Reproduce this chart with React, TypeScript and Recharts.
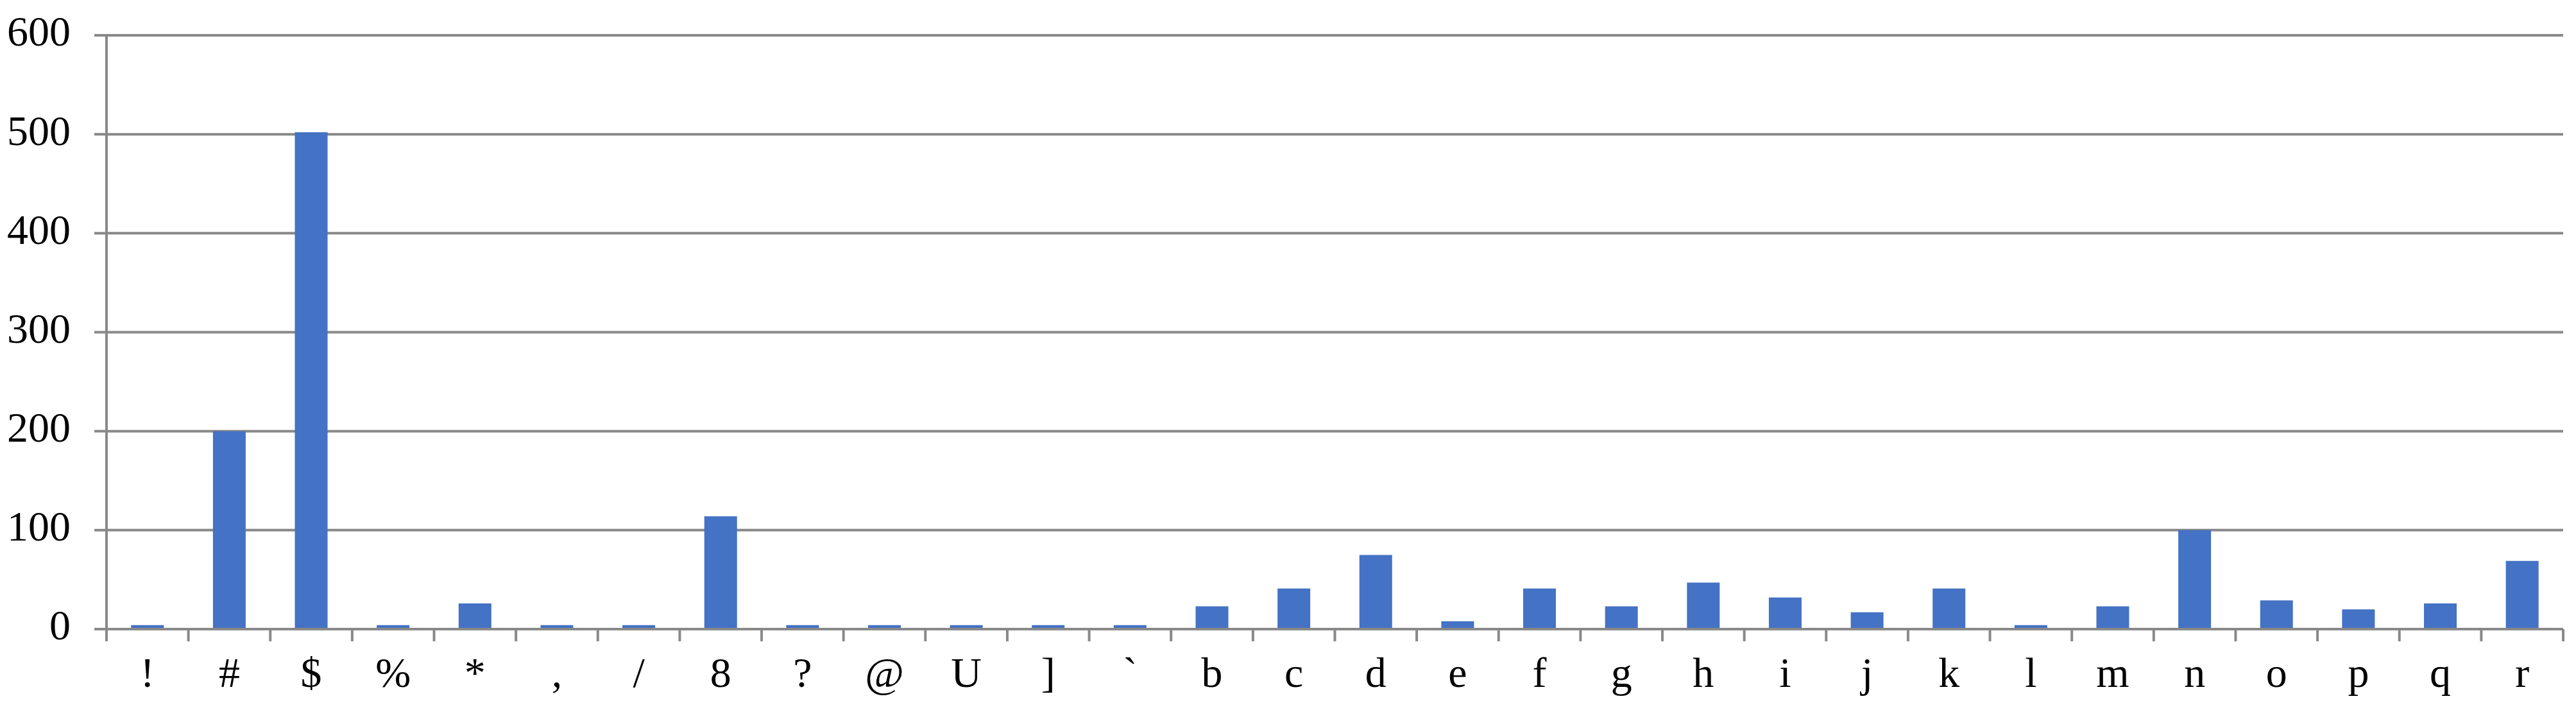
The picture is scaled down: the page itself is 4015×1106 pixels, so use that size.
import { BarChart, Bar, XAxis, YAxis, CartesianGrid } from "recharts";

const categories = [
  "!", "#", "$", "%", "*", ",", "/", "8", "?", "@",
  "U", "]", "`", "b", "c", "d", "e", "f", "g", "h",
  "i", "j", "k", "l", "m", "n", "o", "p", "q", "r",
];

const counts = [
  4, 200, 502, 4, 26, 4, 4, 114, 4, 4,
  4, 4, 4, 23, 41, 75, 8, 41, 23, 47,
  32, 17, 41, 4, 23, 100, 29, 20, 26, 69,
];

const yTicks = [0, 100, 200, 300, 400, 500, 600];

const data = categories.map((name, i) => ({ name, value: counts[i] }));

const GRID = "#898989";
const FONT = "'Liberation Serif', 'Times New Roman', serif";

// label at the band centre, Excel-style tick marks on the band edges
const CategoryTick = (props: any) => {
  const { x, y, payload, index } = props;
  const half = payload?.offset ?? 0;
  const axisY = y - 43;
  return (
    <g>
      <line x1={x - half} x2={x - half} y1={axisY} y2={axisY + 19} stroke={GRID} strokeWidth={4} />
      {index === categories.length - 1 && (
        <line x1={x + half} x2={x + half} y1={axisY} y2={axisY + 19} stroke={GRID} strokeWidth={4} />
      )}
      <text x={x} y={y} dy="0.71em" textAnchor="middle" fill="#000" fontSize={66} fontFamily={FONT}>
        {payload.value}
      </text>
    </g>
  );
};

export default function App() {
  return (
    <div style={{ position: "absolute", left: 0, top: 0, background: "#fff" }}>
      <BarChart
        width={4015}
        height={1106}
        data={data}
        margin={{ top: 55, right: 20, bottom: 0, left: 0 }}
        barCategoryGap="30%"
      >
        <CartesianGrid vertical={false} stroke={GRID} strokeWidth={4} />
        <XAxis
          dataKey="name"
          interval={0}
          height={126}
          axisLine={{ stroke: GRID, strokeWidth: 4 }}
          tickLine={false}
          tickSize={18}
          tickMargin={25}
          tick={<CategoryTick />}
        />
        <YAxis
          domain={[0, 600]}
          ticks={yTicks}
          width={166}
          axisLine={{ stroke: GRID, strokeWidth: 4 }}
          tickLine={{ stroke: GRID, strokeWidth: 4 }}
          tickSize={19}
          tickMargin={37}
          tick={{ fill: "#000", fontSize: 66, fontFamily: FONT, dy: -7 }}
        />
        <Bar dataKey="value" fill="#4472C4" isAnimationActive={false} />
      </BarChart>
    </div>
  );
}
